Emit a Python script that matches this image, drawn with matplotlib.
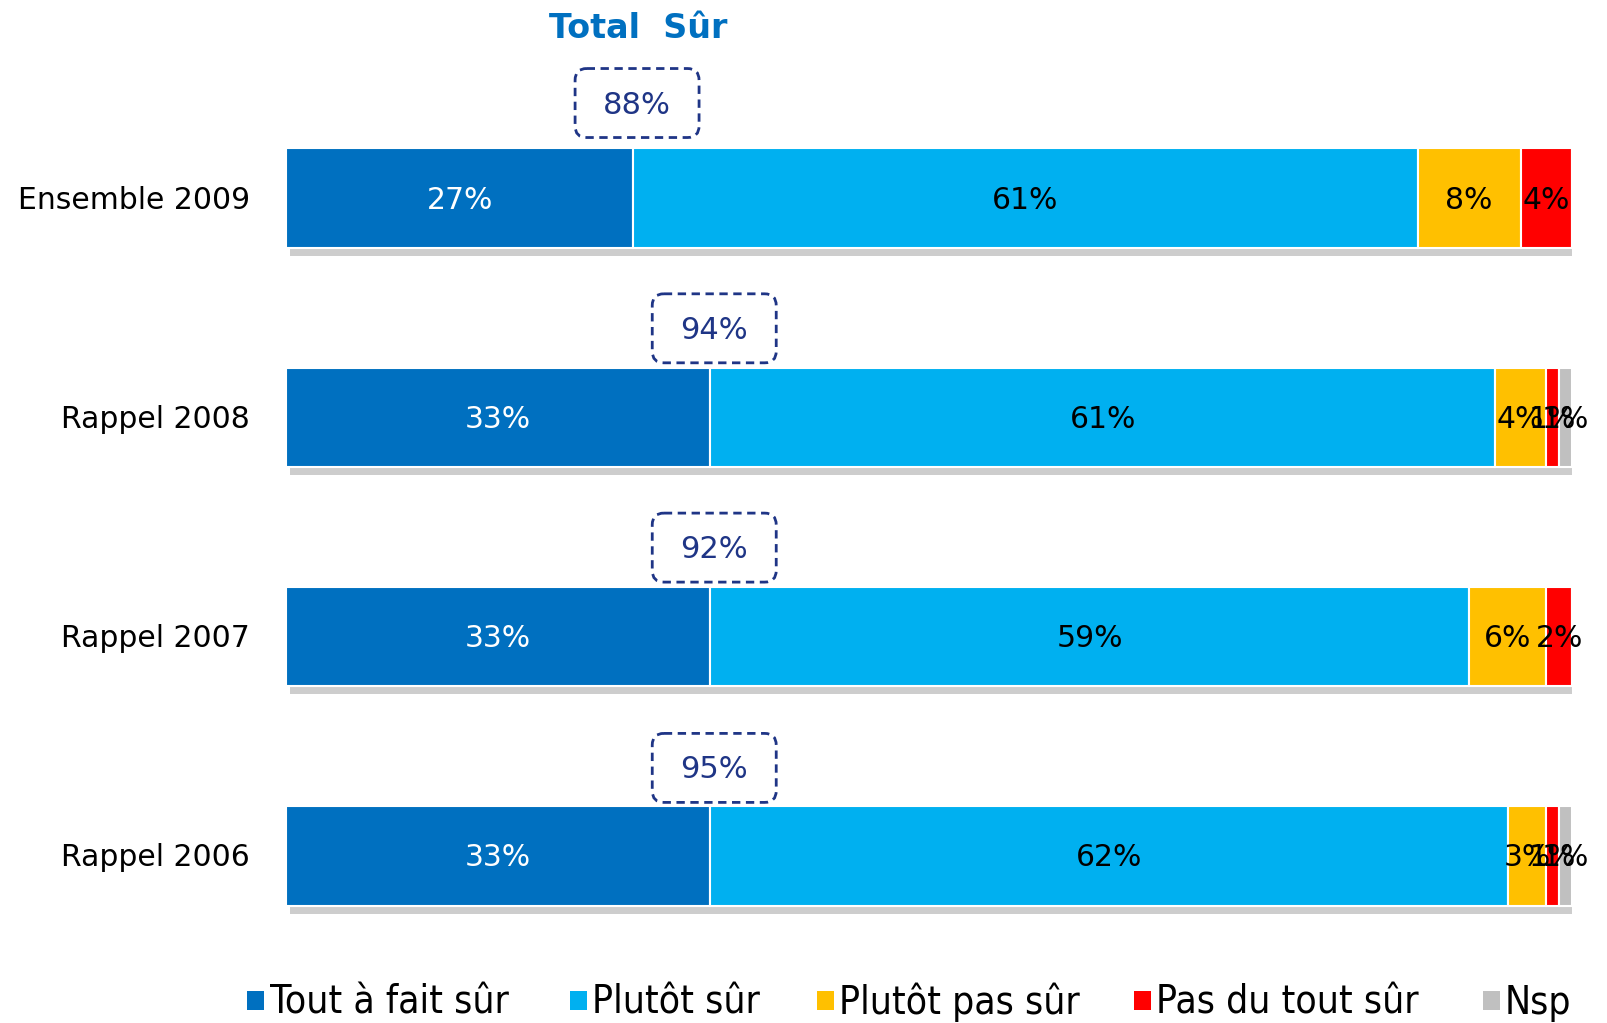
import numpy as np
import matplotlib
matplotlib.use("Agg")
import matplotlib.pyplot as plt
from matplotlib.patches import FancyBboxPatch, Rectangle

# --- data ---
categories = ["Ensemble 2009", "Rappel 2008", "Rappel 2007", "Rappel 2006"]
series = ["Tout à fait sûr", "Plutôt sûr", "Plutôt pas sûr", "Pas du tout sûr", "Nsp"]
tout_a_fait = [27, 33, 33, 33]
plutot_sur = [61, 61, 59, 62]
plutot_pas = [8, 4, 6, 3]
pas_du_tout = [4, 1, 2, 1]
nsp = [0, 1, 0, 1]
total_sur = [88, 94, 92, 95]

colors = ["#0070C0", "#00B0F0", "#FFC000", "#FF0000", "#C0C0C0"]
text_colors = ["white", "black", "black", "black", "black"]
navy = "#1F3586"

W, H = 1608, 1023
fig = plt.figure(figsize=(W / 100, H / 100), dpi=100)
ax = fig.add_axes([286 / W, 0, 1286 / W, 1])
ax.set_xlim(0, 100)
ax.set_ylim(3.762, -0.903)
ax.axis("off")

font = ["DejaVu Sans"]

vals = np.array([tout_a_fait, plutot_sur, plutot_pas, pas_du_tout, nsp], dtype=float)
y = np.arange(len(categories))
h = 0.454
px_y = 1 / 219.3          # data units per pixel (vertical)
px_x = 100 / 1286          # data units per pixel (horizontal)

# shadows under bars
totals = vals.sum(axis=0)
for i in y:
    ax.add_patch(Rectangle((4 * px_x, i + h / 2), totals[i] - 4 * px_x, 8 * px_y,
                           facecolor="#CDCDCD", edgecolor="none", zorder=1))

left = np.zeros(len(categories))
for k, name in enumerate(series):
    ax.barh(y, vals[k], left=left, height=h, color=colors[k],
            edgecolor="white", linewidth=1.5, zorder=2, label=name)
    for i in y:
        if vals[k, i] > 0:
            ax.text(left[i] + vals[k, i] / 2, i + 2 * px_y, f"{int(vals[k, i])}%",
                    ha="center", va="center", color=text_colors[k],
                    fontsize=21.5, family=font, zorder=3)
    left += vals[k]

# category labels
for i, c in enumerate(categories):
    ax.text(-36 * px_x, i + 2 * px_y, c, ha="right", va="center",
            fontsize=21.5, family=font, color="black")

# "Total Sûr" boxes
bw, bh = 9.64, 69 * px_y
box_off = [95, 89, 89, 88]
for i, t in enumerate(total_sur):
    cx = tout_a_fait[i] + 0.3
    cy = i - box_off[i] * px_y
    box = FancyBboxPatch((cx - bw / 2, cy - bh / 2), bw, bh,
                         boxstyle="round,pad=0,rounding_size=0.9",
                         mutation_aspect=(px_y / px_x),
                         facecolor="white", edgecolor=navy,
                         linewidth=2, linestyle=(0, (3, 2)), zorder=4)
    ax.add_patch(box)
    ax.text(cx, cy + 2 * px_y, f"{t}%", ha="center", va="center",
            fontsize=22, family=font, color=navy, zorder=5)

ax.text(tout_a_fait[0] + 0.4, -0.775, "Total  Sûr", ha="center", va="center",
        fontsize=24, fontweight="bold", family=font, color="#0070C0")

# legend (manual, to match spacing)
sq_x = [247, 570, 817, 1134, 1483]
tx_x = [270, 592, 839, 1156, 1505]
for k, name in enumerate(series):
    fig.patches.append(Rectangle((sq_x[k] / W, 1 - 1010 / H), 17 / W, 19 / H,
                                 transform=fig.transFigure, facecolor=colors[k],
                                 edgecolor="none"))
    fig.text(tx_x[k] / W, 1 - 1014 / H, name, ha="left", va="baseline",
             fontsize=28, family=font, fontstretch="condensed", color="black")

fig.savefig("out.png", dpi=100)
